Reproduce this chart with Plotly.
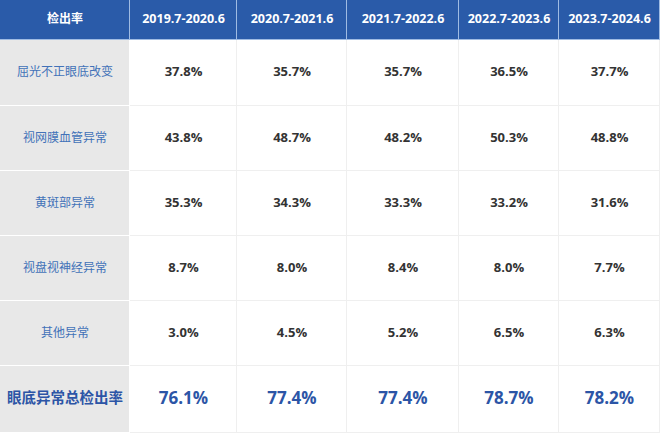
import plotly.graph_objects as go

header = ["检出率", "2019.7-2020.6", "2020.7-2021.6", "2021.7-2022.6",
          "2022.7-2023.6", "2023.7-2024.6"]
categories = ["屈光不正眼底改变", "视网膜血管异常", "黄斑部异常",
              "视盘视神经异常", "其他异常", "眼底异常总检出率"]
rate_2019 = [37.8, 43.8, 35.3, 8.7, 3.0, 76.1]
rate_2020 = [35.7, 48.7, 34.3, 8.0, 4.5, 77.4]
rate_2021 = [35.7, 48.2, 33.3, 8.4, 5.2, 77.4]
rate_2022 = [36.5, 50.3, 33.2, 8.0, 6.5, 78.7]
rate_2023 = [37.7, 48.8, 31.6, 7.7, 6.3, 78.2]

COL_WIDTHS = [130, 107, 110, 112, 100, 101]
ROW_HEIGHTS = [40, 66, 65, 65, 65, 65, 67]

BLUE = "#2a5ba9"
TEXT_BLUE = "#4272b8"
TOTAL_BLUE = "#2c55a6"
DARK = "#333333"
GREY = "#e8e8e8"
FONT = "Open Sans, Noto Sans CJK SC, sans-serif"
CJK = "Noto Sans CJK SC, sans-serif"

series = [rate_2019, rate_2020, rate_2021, rate_2022, rate_2023]
n_rows = len(categories) + 1
n_cols = len(header)

x_edges = [0]
for w in COL_WIDTHS:
    x_edges.append(x_edges[-1] + w)
y_edges = [0]
for h in ROW_HEIGHTS:
    y_edges.append(y_edges[-1] + h)
x_mid = [(a + b) / 2 for a, b in zip(x_edges[:-1], x_edges[1:])]
y_mid = [(a + b) / 2 for a, b in zip(y_edges[:-1], y_edges[1:])]

# cell kind: 0 header, 1 row label, 2 value
kind = [[0] * n_cols]
for _ in categories:
    kind.append([1] + [2] * (n_cols - 1))

fig = go.Figure()

# bottom layer = border colours, top layer (with gaps) = fills
fig.add_trace(go.Heatmap(
    x=x_edges, y=y_edges, z=kind, zmin=0, zmax=2,
    colorscale=[[0, "#9fbbe3"], [0.5, "white"], [1, "#efefef"]],
    showscale=False, hoverinfo="skip",
))
fig.add_trace(go.Heatmap(
    x=x_edges, y=y_edges, z=kind, zmin=0, zmax=2, xgap=1, ygap=1,
    colorscale=[[0, BLUE], [0.5, GREY], [1, "white"]],
    showscale=False, hoverinfo="skip",
))

# header
fig.add_trace(go.Scatter(
    x=x_mid, y=[y_mid[0]] * n_cols, mode="text",
    text=[f"<b>{h}</b>" for h in header],
    textfont=dict(family=FONT, size=[12] + [12.5] * 5, color="white"),
    hoverinfo="skip",
))

# row labels
fig.add_trace(go.Scatter(
    x=[x_mid[0]] * len(categories), y=y_mid[1:], mode="text",
    text=categories[:-1] + [f"<b>{categories[-1]}</b>"],
    textfont=dict(family=CJK, size=[12] * (len(categories) - 1) + [14.5],
                  color=[TEXT_BLUE] * (len(categories) - 1) + [TOTAL_BLUE]),
    hoverinfo="skip",
))

# values
xs, ys, texts, sizes, colors = [], [], [], [], []
for j, s in enumerate(series):
    for i, v in enumerate(s):
        last = i == len(s) - 1
        xs.append(x_mid[j + 1])
        ys.append(y_mid[i + 1])
        texts.append(f"<b>{v:.1f}%</b>")
        sizes.append(17 if last else 13)
        colors.append(TOTAL_BLUE if last else DARK)
fig.add_trace(go.Scatter(
    x=xs, y=ys, mode="text", text=texts,
    textfont=dict(family=FONT, size=sizes, color=colors),
    hoverinfo="skip",
))

fig.update_layout(
    width=660,
    height=433,
    margin=dict(l=0, r=0, t=0, b=0),
    paper_bgcolor="white",
    plot_bgcolor="white",
    showlegend=False,
    xaxis=dict(range=[0, x_edges[-1]], visible=False, fixedrange=True),
    yaxis=dict(range=[y_edges[-1], 0], visible=False, fixedrange=True),
)

fig.write_html(
    "out.html",
    config={"displayModeBar": False},
    post_script="document.body.style.margin = '0';",
)
